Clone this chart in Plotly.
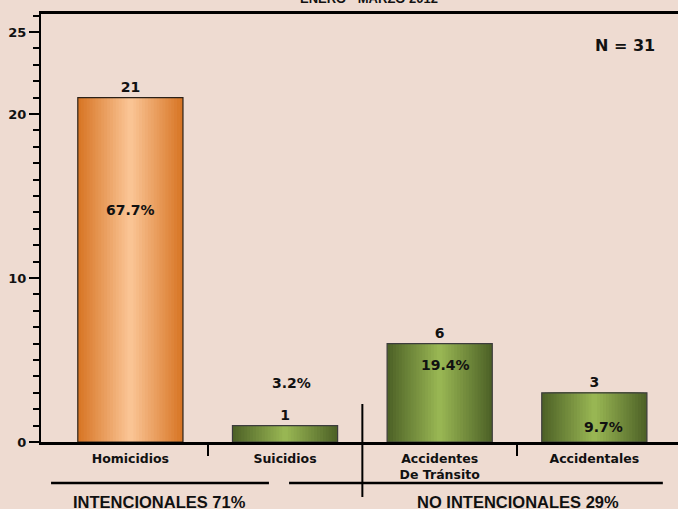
import plotly.graph_objects as go

categories = ["Homicidios", "Suicidios", "Accidentes<br>De Tránsito", "Accidentales"]
values = [21, 1, 6, 3]
percents = ["67.7%", "3.2%", "19.4%", "9.7%"]
group_labels = ["INTENCIONALES 71%", "NO INTENCIONALES 29%"]
title_text = "ENERO - MARZO 2012"
n_text = "N = 31"
y_tickvals = [0, 10, 20, 25]

# style / layout constants
pct_label_x = [0.002, 1.043, 2.036, 3.056]
pct_label_y = [14.13, 3.62, 4.70, 0.90]
BG = "#EEDBD1"
ORANGE_EDGE, ORANGE_CENTER = (216, 118, 38), (250, 196, 148)
GREEN_EDGE, GREEN_CENTER = (78, 98, 39), (152, 182, 83)
BAR_W = 0.68
N_LAYERS = 18


def mix(a, b, t):
    return "rgb(%d,%d,%d)" % tuple(round(a[i] + (b[i] - a[i]) * t) for i in range(3))


xs = list(range(len(categories)))
fig = go.Figure()
for k in range(N_LAYERS):
    t = k / (N_LAYERS - 1)
    cols = [mix(ORANGE_EDGE, ORANGE_CENTER, t) if i == 0 else mix(GREEN_EDGE, GREEN_CENTER, t)
            for i in xs]
    fig.add_trace(go.Bar(x=xs, y=values, width=BAR_W * (1 - k / N_LAYERS),
                         marker=dict(color=cols, line=dict(width=0)),
                         hoverinfo="skip", showlegend=False))
# outline + count labels
fig.add_trace(go.Bar(x=xs, y=values, width=BAR_W,
                     marker=dict(color="rgba(0,0,0,0)",
                                 line=dict(color=["#2b2118", "#3c3c3c", "#3c3c3c", "#3c3c3c"], width=1.2)),
                     text=["<b>%d</b>" % v for v in values], textposition="outside",
                     textfont=dict(family="DejaVu Sans", size=14, color="#111111"),
                     cliponaxis=False, showlegend=False))

for xp, yp, p in zip(pct_label_x, pct_label_y, percents):
    fig.add_annotation(x=xp, y=yp, xref="x", yref="y", text="<b>%s</b>" % p, showarrow=False,
                       font=dict(family="DejaVu Sans", size=14, color="#111111"))

fig.add_annotation(x=3.2, y=24.15, xref="x", yref="y", text="<b>%s</b>" % n_text, showarrow=False,
                   font=dict(family="DejaVu Sans", size=16, color="#111111"))

fig.add_annotation(x=1.54, y=1, xref="x", yref="paper", yanchor="middle", yshift=16,
                   text="<b>%s</b>" % title_text, showarrow=False,
                   font=dict(family="Liberation Sans", size=13, color="#111111"))

# group labels and separator lines
fig.add_annotation(x=0.19, y=-0.142, xref="x", yref="paper", yshift=-10,
                   text="<b>%s</b>" % group_labels[0],
                   showarrow=False, font=dict(family="Liberation Sans", size=16.5, color="#111111"))
fig.add_annotation(x=2.507, y=-0.142, xref="x", yref="paper", yshift=-10,
                   text="<b>%s</b>" % group_labels[1],
                   showarrow=False, font=dict(family="Liberation Sans", size=16.5, color="#111111"))
fig.add_shape(type="line", xref="x", yref="paper", x0=-0.513, x1=0.896, y0=-0.0958, y1=-0.0958,
              line=dict(color="black", width=2.5))
fig.add_shape(type="line", xref="x", yref="paper", x0=1.026, x1=3.443, y0=-0.0958, y1=-0.0958,
              line=dict(color="black", width=2.5))
fig.add_shape(type="line", xref="x", yref="paper", x0=1.5, x1=1.5, y0=0.0888, y1=-0.1285,
              line=dict(color="black", width=2))

fig.update_layout(
    width=678, height=509,
    margin=dict(l=41, r=0, t=14, b=67),
    paper_bgcolor=BG, plot_bgcolor=BG,
    barmode="overlay",
    showlegend=False,
    xaxis=dict(range=[-0.578, 3.541], tickmode="array", tickvals=xs,
               ticktext=["<b>%s</b>" % c.replace("<br>", "</b><br><b>") for c in categories],
               ticks="", showline=True, linecolor="black", linewidth=2.5, mirror=True,
               showgrid=False, zeroline=False, ticklabelstandoff=3,
               tickfont=dict(family="DejaVu Sans", size=12.5, color="#111111"),
               minor=dict(tickmode="array", tickvals=[0.5, 2.5], ticks="outside", ticklen=11,
                          tickwidth=2, tickcolor="black", showgrid=False)),
    yaxis=dict(range=[0, 26.1], tickmode="array", tickvals=y_tickvals,
               ticktext=["<b>%d</b>" % v for v in y_tickvals], ticks="outside",
               ticklen=10, tickwidth=2, tickcolor="black", showline=True, linecolor="black",
               linewidth=2, showgrid=False, zeroline=False, ticklabelstandoff=0,
               tickfont=dict(family="DejaVu Sans", size=13, color="#111111"),
               minor=dict(dtick=1, ticks="outside", ticklen=6, tickwidth=2, tickcolor="black",
                          showgrid=False)),
)

fig.write_html("out.html", config={"displayModeBar": False},
               post_script="document.body.style.margin='0';document.body.style.background='%s';" % BG)
